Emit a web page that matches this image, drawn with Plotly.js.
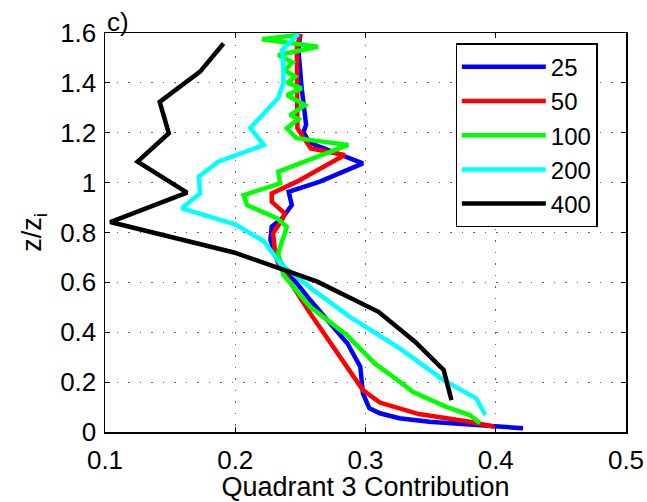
<!DOCTYPE html>
<html>
<head>
<meta charset="utf-8">
<script src="https://cdn.plot.ly/plotly-3.0.1.min.js"></script>
<style>
  html, body { margin: 0; padding: 0; background: #fff; }
  #chart { width: 647px; height: 502px; }
</style>
</head>
<body>
<div id="chart"></div>
<script>
// Quadrant 3 contribution profiles against normalised height z/z_i

const seriesNames = ['25', '50', '100', '200', '400'];
const seriesColors = ['#0000ff', '#ff0000', '#00ff00', '#00ffff', '#000000'];

const z25 = [0.015, 0.041, 0.055, 0.075, 0.095, 0.155, 0.262, 0.356, 0.529, 0.697, 0.770, 0.823, 0.857, 0.910, 0.963, 1.004, 1.077, 1.160, 1.202, 1.232, 1.379, 1.533, 1.596];
const q25 = [0.421, 0.349, 0.326, 0.311, 0.303, 0.298, 0.296, 0.286, 0.2575, 0.232, 0.227, 0.228, 0.236, 0.2434, 0.241, 0.265, 0.298, 0.257, 0.2523, 0.2544, 0.251, 0.2485, 0.250];

const z50 = [0.021, 0.041, 0.072, 0.118, 0.168, 0.476, 0.676, 0.703, 0.797, 0.850, 0.877, 0.923, 0.957, 1.004, 1.111, 1.137, 1.202, 1.219, 1.540, 1.596];
const q50 = [0.399, 0.380, 0.341, 0.311, 0.298, 0.2575, 0.233, 0.231, 0.229, 0.236, 0.238, 0.228, 0.228, 0.2473, 0.284, 0.258, 0.2498, 0.2477, 0.2473, 0.2498];

const z100 = [0.035, 0.068, 0.101, 0.160, 0.222, 0.275, 0.389, 0.502, 0.630, 0.717, 0.823, 0.857, 0.910, 0.950, 0.997, 1.044, 1.057, 1.151, 1.178, 1.218, 1.255, 1.271, 1.311, 1.351, 1.378, 1.400, 1.425, 1.450, 1.482, 1.512, 1.545, 1.575, 1.592];
const q100 = [0.388, 0.380, 0.362, 0.3366, 0.321, 0.307, 0.2856, 0.2575, 0.237, 0.233, 0.2396, 0.232, 0.209, 0.2064, 0.2345, 0.233, 0.2396, 0.2868, 0.247, 0.2396, 0.2485, 0.242, 0.2536, 0.2396, 0.251, 0.240, 0.246, 0.238, 0.244, 0.233, 0.2636, 0.2205, 0.248];

const z200 = [0.068, 0.135, 0.208, 0.336, 0.462, 0.569, 0.676, 0.765, 0.833, 0.897, 0.957, 1.024, 1.084, 1.151, 1.219, 1.339, 1.400, 1.452, 1.532, 1.596];
const q200 = [0.392, 0.385, 0.360, 0.326, 0.288, 0.260, 0.2345, 0.222, 0.200, 0.159, 0.173, 0.172, 0.187, 0.222, 0.2115, 0.233, 0.237, 0.237, 0.236, 0.2485];

const z400 = [0.128, 0.249, 0.362, 0.482, 0.603, 0.720, 0.842, 0.960, 1.084, 1.198, 1.324, 1.445, 1.558];
const q400 = [0.366, 0.360, 0.338, 0.310, 0.263, 0.199, 0.104, 0.163, 0.125, 0.149, 0.142, 0.173, 0.191];

const xTicks = [0.1, 0.2, 0.3, 0.4, 0.5];
const yTicks = [0, 0.2, 0.4, 0.6, 0.8, 1, 1.2, 1.4, 1.6];

const zData = [z25, z50, z100, z200, z400];
const qData = [q25, q50, q100, q200, q400];

const font = 'Liberation Sans, Arial, Helvetica, sans-serif';
const fs = 26;

const traces = seriesNames.map((name, i) => ({
  type: 'scatter',
  mode: 'lines',
  name: name,
  x: qData[i],
  y: zData[i],
  line: { color: seriesColors[i], width: 4.5 }
}));

const axisCommon = {
  showline: true,
  linecolor: '#000',
  linewidth: 1.5,
  mirror: 'ticks',
  ticks: 'inside',
  ticklen: 5,
  tickcolor: '#000',
  showgrid: true,
  gridcolor: '#666',
  gridwidth: 1,
  griddash: '1.5px,10px',
  zeroline: false,
  tickfont: { family: font, size: fs, color: '#000' }
};

const layout = {
  width: 647,
  height: 502,
  margin: { l: 104.5, r: 20.5, t: 33, b: 70 },
  paper_bgcolor: '#fff',
  plot_bgcolor: '#fff',
  font: { family: font, color: '#000' },
  showlegend: true,
  legend: {
    x: 0.673,
    y: 0.9737,
    xanchor: 'left',
    yanchor: 'top',
    bgcolor: '#fff',
    bordercolor: '#000',
    borderwidth: 1.2,
    font: { family: font, size: 24, color: '#000' },
    itemwidth: 84
  },
  xaxis: Object.assign({}, axisCommon, {
    range: [0.1, 0.5],
    tickvals: xTicks,
    ticktext: xTicks.map(String),
    ticklabelstandoff: 4,
    title: { text: 'Quadrant 3 Contribution', font: { family: font, size: 27, color: '#000' }, standoff: 2 }
  }),
  yaxis: Object.assign({}, axisCommon, {
    range: [0, 1.6],
    tickvals: yTicks,
    ticktext: yTicks.map(String),
    ticklabelstandoff: 2,
    title: { text: 'z/z<sub>i</sub>', font: { family: font, size: 27, color: '#000' }, standoff: 10 }
  }),
  annotations: [{
    xref: 'paper', yref: 'paper',
    x: 0.0, y: 1.0,
    xanchor: 'left', yanchor: 'bottom',
    xshift: 0, yshift: -6,
    text: 'c)',
    showarrow: false,
    font: { family: font, size: fs, color: '#000' }
  }]
};

Plotly.newPlot('chart', traces, layout, { displayModeBar: false, staticPlot: true });
</script>
</body>
</html>
